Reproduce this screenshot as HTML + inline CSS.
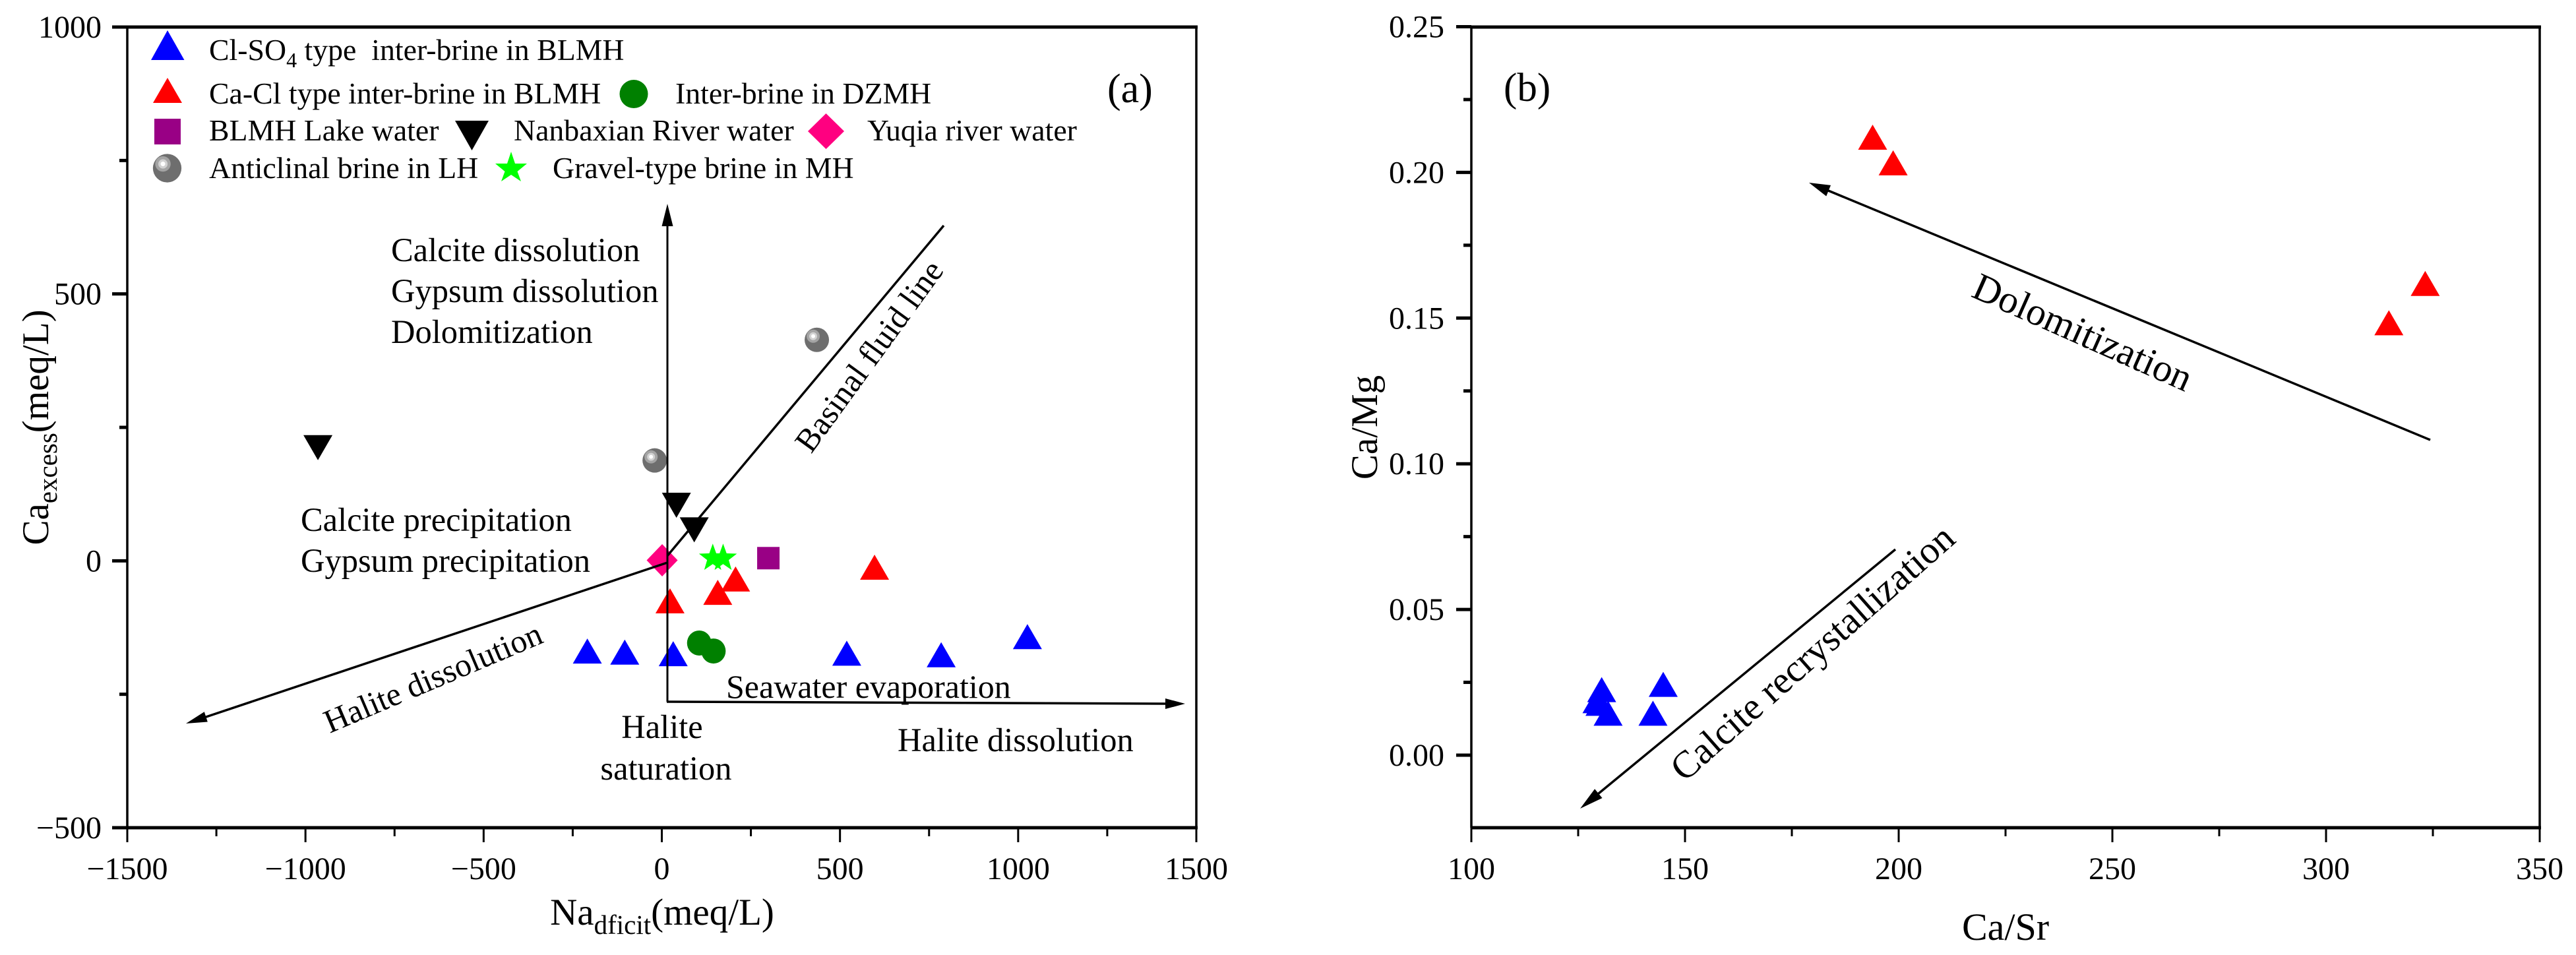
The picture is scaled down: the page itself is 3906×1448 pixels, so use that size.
<!DOCTYPE html>
<html lang="en">
<head>
<meta charset="utf-8">
<title>Ca excess vs Na deficit and Ca/Mg vs Ca/Sr</title>
<style>
html,body{margin:0;padding:0;background:#fff;}
svg{display:block;}
text{font-family:"Liberation Serif","Times New Roman",serif;fill:#000;white-space:pre;}
</style>
</head>
<body>
<svg id="figure" xmlns="http://www.w3.org/2000/svg" width="3906" height="1448" viewBox="0 0 3906 1448">
  <defs>
    <g id="sphere-symbol">
      <circle r="18.5" fill="#6e6e6e"/>
      <circle cx="-5.5" cy="-5.5" r="10" fill="#a4a4a4"/>
      <circle cx="-5.5" cy="-5.5" r="6" fill="#d2d2d2"/>
      <circle cx="-5.5" cy="-5.5" r="3" fill="#ffffff"/>
    </g>
  </defs>
  <rect width="3906" height="1448" fill="#fff"/>

  <g id="panel-a">
    <g id="a-marks"></g>
    <g id="a-axes"></g>

    <g fill="#000" stroke="none">
      <line x1="1012" y1="1064" x2="1012" y2="340" stroke="#000" stroke-width="3"/>
      <polygon points="1012,309 1003.5,343 1020.5,343"/>
      <line x1="1011" y1="1064" x2="1770" y2="1067" stroke="#000" stroke-width="3.5"/>
      <polygon points="1797,1067 1767,1059 1767,1075"/>
      <line x1="1011.7" y1="843" x2="1431" y2="342" stroke="#000" stroke-width="3.5"/>
      <line x1="1012" y1="853" x2="305" y2="1089.5" stroke="#000" stroke-width="3.5"/>
      <polygon points="282,1097 314.8,1094.5 309.8,1079.3"/>
    </g>

    <g font-size="50.5">
      <text x="593" y="396">Calcite dissolution</text>
      <text x="593" y="458">Gypsum dissolution</text>
      <text x="593" y="520">Dolomitization</text>
      <text x="456" y="805">Calcite precipitation</text>
      <text x="456" y="867">Gypsum precipitation</text>
      <text x="1101" y="1058" font-size="50">Seawater evaporation</text>
      <text x="1004" y="1119" text-anchor="middle">Halite</text>
      <text x="1010" y="1182" text-anchor="middle">saturation</text>
      <text x="1361" y="1139">Halite dissolution</text>
      <text transform="translate(1230 689) rotate(-54)" font-size="50">Basinal fluid line</text>
      <text transform="translate(500 1112) rotate(-23)" font-size="50">Halite dissolution</text>
      <text x="1679" y="155" font-size="62">(a)</text>
    </g>

    <g font-size="45.8">
      <polygon points="254,46 279.5,91 229,91" fill="#0000ff"/>
      <text x="317" y="91">Cl-SO<tspan font-size="32" dy="11">4</tspan><tspan dy="-11"> type  inter-brine in BLMH</tspan></text>
      <polygon points="254,118 276,156 232,156" fill="#ff0000"/>
      <text x="317" y="157">Ca-Cl type inter-brine in BLMH</text>
      <ellipse cx="961" cy="142.5" rx="21.5" ry="21.5" fill="#008000"/>
      <text x="1024" y="157">Inter-brine in DZMH</text>
      <rect x="234" y="180" width="40" height="39" fill="#990085"/>
      <text x="317" y="213">BLMH Lake water</text>
      <polygon points="690,183 741,183 715.5,228" fill="#000"/>
      <text x="779" y="213">Nanbaxian River water</text>
      <polygon points="1252.5,172 1280,199 1252.5,226 1225,199" fill="#ff0080"/>
      <text x="1315" y="213">Yuqia river water</text>
      <use href="#sphere-symbol" transform="translate(253.5 255) scale(1.17)"/>
      <text x="317" y="270">Anticlinal brine in LH</text>
      <polygon points="775,230 781,248 799,248 784.5,260 790,275 775,265 760,275 765.5,260 751,248 769,248" fill="#00ff00"/>
      <text x="838" y="270">Gravel-type brine in MH</text>
    </g>

    <text transform="translate(73 648) rotate(-90)" text-anchor="middle" font-size="57">Ca<tspan font-size="41" dy="13">excess</tspan><tspan dy="-13">(meq/L)</tspan></text>
    <text x="1004" y="1402" text-anchor="middle" font-size="57">Na<tspan font-size="41" dy="14">dficit</tspan><tspan dy="-14">(meq/L)</tspan></text>
  </g>

  <g id="panel-b">
    <g id="b-marks"></g>
    <g id="b-axes"></g>

    <g fill="#000">
      <line x1="3685" y1="667" x2="2765" y2="286" stroke="#000" stroke-width="3.5"/>
      <polygon points="2743,277 2769.2,297.5 2776,280.9"/>
      <line x1="2874" y1="833" x2="2418" y2="1208" stroke="#000" stroke-width="3.5"/>
      <polygon points="2396,1226 2429.5,1210 2418.1,1196.2"/>
    </g>

    <text transform="translate(2987 449) rotate(24)" font-size="59">Dolomitization</text>
    <text transform="translate(2554 1187) rotate(-41.5)" font-size="58">Calcite recrystallization</text>
    <text x="2280" y="153" font-size="61">(b)</text>
    <text transform="translate(2088 648) rotate(-90)" text-anchor="middle" font-size="57">Ca/Mg</text>
    <text x="3041" y="1425" text-anchor="middle" font-size="58">Ca/Sr</text>
  </g>
</svg>

<script>
// Panel (a) axis ticks
const aXTicks = [-1500, -1000, -500, 0, 500, 1000, 1500];
const aXMinorTicks = [-1250, -750, -250, 250, 750, 1250];
const aYTicks = [-500, 0, 500, 1000];
const aYMinorTicks = [-250, 250, 750];

// Panel (a) series
const aClSo4X = [-209, -104, 32, 519, 784, 1026];
const aClSo4Y = [-169, -171, -174, -173, -176, -142];
const aCaClX = [23, 157, 207, 597];
const aCaClY = [-75, -59, -34, -12];
const aDzmhX = [105, 145];
const aDzmhY = [-154, -169];
const aLakeX = [299];
const aLakeY = [5];
const aNanbaxianX = [-965, 41, 91];
const aNanbaxianY = [212, 104, 58];
const aYuqiaX = [1];
const aYuqiaY = [1];
const aAnticlinalX = [435, -20];
const aAnticlinalY = [414, 188];
const aGravelX = [143, 172];
const aGravelY = [5, 5];

// Panel (b) axis ticks
const bXTicks = [100, 150, 200, 250, 300, 350];
const bXMinorTicks = [125, 175, 225, 275, 325];
const bYTicks = [0, 0.05, 0.10, 0.15, 0.20, 0.25];
const bYMinorTicks = [0.025, 0.075, 0.125, 0.175, 0.225];

// Panel (b) series
const bCaClX = [193.9, 198.7, 323.2, 314.7];
const bCaClY = [0.2121, 0.2033, 0.1619, 0.1484];
const bClSo4X = [144.9, 142.5, 132, 130.5, 129.4, 130.1];
const bClSo4Y = [0.0243, 0.0144, 0.0144, 0.0225, 0.0187, 0.0178];

const NS = 'http://www.w3.org/2000/svg';

function aX(v) { return 193 + (v + 1500) / 3000 * 1621; }
function aY(v) { return 1255 - (v + 500) / 1500 * 1214; }
function bX(v) { return 2231 + (v - 100) / 250 * 1620; }
function bY(v) { return 1145 - v / 0.25 * 1104.5; }

function make(tag, parent, props) {
  const el = document.createElementNS(NS, tag);
  for (const k in props) el.setAttribute(k, props[k]);
  parent.appendChild(el);
  return el;
}

function triangleUp(parent, x, y, color) {
  return make('polygon', parent, {
    points: x + ',' + (y - 19) + ' ' + (x + 22) + ',' + (y + 19) + ' ' + (x - 22) + ',' + (y + 19),
    fill: color
  });
}
function triangleDown(parent, x, y, color) {
  return make('polygon', parent, {
    points: (x - 22) + ',' + (y - 19) + ' ' + (x + 22) + ',' + (y - 19) + ' ' + x + ',' + (y + 19),
    fill: color
  });
}
function diamond(parent, x, y, color) {
  return make('polygon', parent, {
    points: x + ',' + (y - 24.5) + ' ' + (x + 23.5) + ',' + y + ' ' + x + ',' + (y + 24.5) + ' ' + (x - 23.5) + ',' + y,
    fill: color
  });
}
function square(parent, x, y, color) {
  return make('rect', parent, { x: x - 17, y: y - 17, width: 34, height: 34, fill: color });
}
function dot(parent, x, y, color) {
  return make('ellipse', parent, { cx: x, cy: y, rx: 18.5, ry: 19, fill: color });
}
function star(parent, x, y, color) {
  let pts = '';
  for (let i = 0; i < 10; i++) {
    const r = i % 2 === 0 ? 22 : 9;
    const a = -Math.PI / 2 + i * Math.PI / 5;
    pts += (x + r * Math.cos(a)) + ',' + (y + r * Math.sin(a)) + ' ';
  }
  return make('polygon', parent, { points: pts, fill: color });
}
function sphere(parent, x, y) {
  const el = document.createElementNS(NS, 'use');
  el.setAttribute('href', '#sphere-symbol');
  el.setAttribute('transform', 'translate(' + x + ' ' + y + ')');
  parent.appendChild(el);
  return el;
}

function fmtMinus(v) { return String(v).replace('-', '\u2212'); }

function drawAxes(parent, left, right, top, bottom, fx, fy, xT, xM, yT, yM, xFmt, yFmt, yLabelX, prefix) {
  xM.forEach(function (v) {
    const t = make('line', parent, { x1: fx(v), x2: fx(v), y1: bottom, y2: bottom + 13, stroke: '#000', 'stroke-width': 3 });
    
    
  });
  xT.forEach(function (v) {
    const t = make('line', parent, { x1: fx(v), x2: fx(v), y1: bottom, y2: bottom + 22, stroke: '#000', 'stroke-width': 3 });
    
    
    const lab = make('text', parent, { x: fx(v), y: 1333, 'text-anchor': 'middle', 'font-size': 48 });
    lab.textContent = xFmt(v);
    
    
  });
  yM.forEach(function (v) {
    const t = make('line', parent, { x1: left - 12, x2: left, y1: fy(v), y2: fy(v), stroke: '#000', 'stroke-width': 5 });
    
    
  });
  yT.forEach(function (v) {
    const t = make('line', parent, { x1: left - 23, x2: left, y1: fy(v), y2: fy(v), stroke: '#000', 'stroke-width': 5 });
    
    
    const lab = make('text', parent, { x: yLabelX, y: fy(v) + 16, 'text-anchor': 'end', 'font-size': 48 });
    lab.textContent = yFmt(v);
    
    
  });
  const leftSpine = make('line', parent, { x1: left, x2: left, y1: top, y2: bottom, stroke: '#000', 'stroke-width': 3.5 });
  
  
  const rightSpine = make('line', parent, { x1: right, x2: right, y1: top, y2: bottom, stroke: '#000', 'stroke-width': 3.5 });
  
  
  const topSpine = make('line', parent, { x1: left, x2: right + 2, y1: top, y2: top, stroke: '#000', 'stroke-width': 5 });
  
  
  const bottomSpine = make('line', parent, { x1: left, x2: right + 2, y1: bottom, y2: bottom, stroke: '#000', 'stroke-width': 5 });
  
  
}

const aMarks = document.getElementById('a-marks');
const bMarks = document.getElementById('b-marks');

aClSo4X.forEach(function (v, i) {
  const m = triangleUp(aMarks, aX(v), aY(aClSo4Y[i]), '#0000ff');
  
  
});
aCaClX.forEach(function (v, i) {
  const m = triangleUp(aMarks, aX(v), aY(aCaClY[i]), '#ff0000');
  
  
});
aDzmhX.forEach(function (v, i) {
  const m = dot(aMarks, aX(v), aY(aDzmhY[i]), '#008000');
  
  
});
aLakeX.forEach(function (v, i) {
  const m = square(aMarks, aX(v), aY(aLakeY[i]), '#990085');
  
  
});
aNanbaxianX.forEach(function (v, i) {
  const m = triangleDown(aMarks, aX(v), aY(aNanbaxianY[i]), '#000000');
  
  
});
aYuqiaX.forEach(function (v, i) {
  const m = diamond(aMarks, aX(v), aY(aYuqiaY[i]), '#ff0080');
  
  
});
aAnticlinalX.forEach(function (v, i) {
  const m = sphere(aMarks, aX(v), aY(aAnticlinalY[i]));
  
  
});
aGravelX.forEach(function (v, i) {
  const m = star(aMarks, aX(v), aY(aGravelY[i]), '#00ff00');
  
  
});

bCaClX.forEach(function (v, i) {
  const m = triangleUp(bMarks, bX(v), bY(bCaClY[i]), '#ff0000');
  
  
});
bClSo4X.forEach(function (v, i) {
  const m = triangleUp(bMarks, bX(v), bY(bClSo4Y[i]), '#0000ff');
  
  
});

drawAxes(document.getElementById('a-axes'), 193, 1814, 41, 1255, aX, aY,
  aXTicks, aXMinorTicks, aYTicks, aYMinorTicks, fmtMinus, fmtMinus, 154, 'a');
drawAxes(document.getElementById('b-axes'), 2231, 3851, 41, 1255, bX, bY,
  bXTicks, bXMinorTicks, bYTicks, bYMinorTicks, String, function (v) { return v.toFixed(2); }, 2190, 'b');
</script>
</body>
</html>
